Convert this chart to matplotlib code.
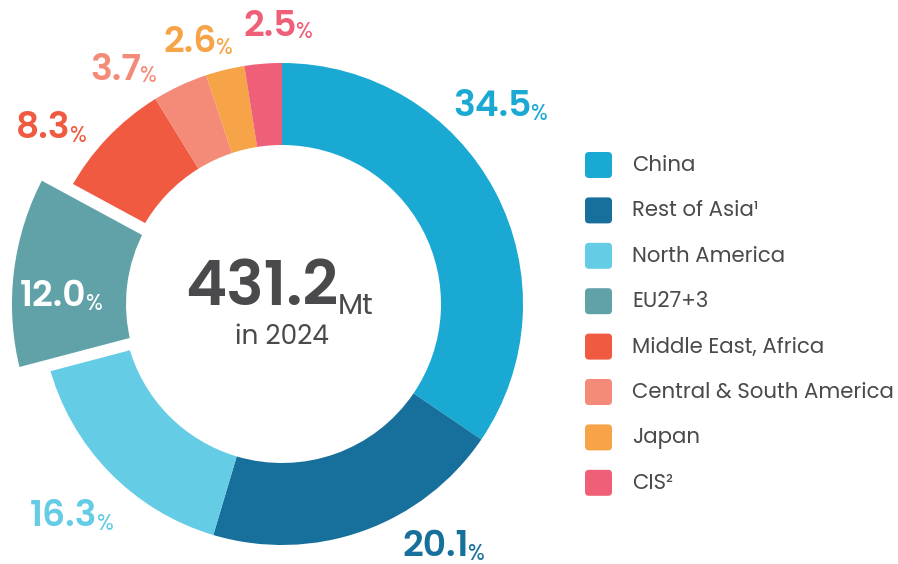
import matplotlib.pyplot as plt
from matplotlib.patches import FancyBboxPatch

regions = ['China', 'Rest of Asia¹', 'North America', 'EU27+3', 'Middle East, Africa',
           'Central & South America', 'Japan', 'CIS²']
shares = [34.5, 20.1, 16.3, 12.0, 8.3, 3.7, 2.6, 2.5]
colors = ['#1aa9d3', '#17709b', '#65cce6', '#61a2a8', '#f05a40', '#f38b78', '#f6a447', '#ef5f77']
total_mt = '431.2'
year = '2024'

# left edge / vertical centre of each percentage label, in pixels from top-left
label_pos = [(455, 105), (404, 545), (32, 515), (22, 295), (18, 127), (92, 68), (165, 40), (245, 24)]

W, H = 898, 564
FONT = ['Poppins', 'Open Sans', 'DejaVu Sans']
plt.rcParams['font.family'] = FONT

fig = plt.figure(figsize=(W / 100, H / 100), dpi=100)
ax = fig.add_axes([0, 0, 1, 1])

cx, cy = 282, H - 304
R = 241
wedges, _ = ax.pie(shares, colors=colors, startangle=90, counterclock=False, center=(cx, cy),
                   radius=R, wedgeprops=dict(width=82, linewidth=0))

# highlighted EU slice: bigger, with a white gap around it
eu = wedges[regions.index('EU27+3')]
eu.set_radius(276)
eu.set_width(126)
eu.set_edgecolor('white')
eu.set_linewidth(8.6)
eu.set_joinstyle('miter')
eu.set_zorder(5)

ax.set_xlim(0, W)
ax.set_ylim(0, H)
ax.set_aspect('equal')
ax.axis('off')

for val, col, (px, py), reg in zip(shares, colors, label_pos, regions):
    tc = 'white' if reg == 'EU27+3' else col
    t = ax.text(px - 2, H - py - 3, f'{val:.1f}', ha='left', va='center', fontsize=26,
                fontweight='semibold', color=tc, zorder=6)
    ax.annotate('%', xy=(1, 0), xycoords=t, xytext=(-1, 0), textcoords='offset points',
                ha='left', va='bottom', fontsize=16, color=tc, zorder=6)

big = ax.text(338, H - 290, total_mt, ha='right', va='center', fontsize=45, fontweight='semibold',
              color='#4a4a4c')
ax.annotate('Mt', xy=(1, 0), xycoords=big, xytext=(0, 0), textcoords='offset points',
            ha='left', va='bottom', fontsize=21, color='#4a4a4c')
ax.text(282, H - 338, f'in {year}', ha='center', va='center', fontsize=19, color='#4a4a4c')

for i, (reg, col) in enumerate(zip(regions, colors)):
    y = H - (165 + i * 45.4)
    ax.add_patch(FancyBboxPatch((585, y - 13), 27, 26, boxstyle='round,pad=0,rounding_size=4',
                                fc=col, ec='none'))
    ax.text(632, y - 1, reg, ha='left', va='center', fontsize=15.3, color='#4a4a4c')

fig.savefig('out.png', dpi=100)
